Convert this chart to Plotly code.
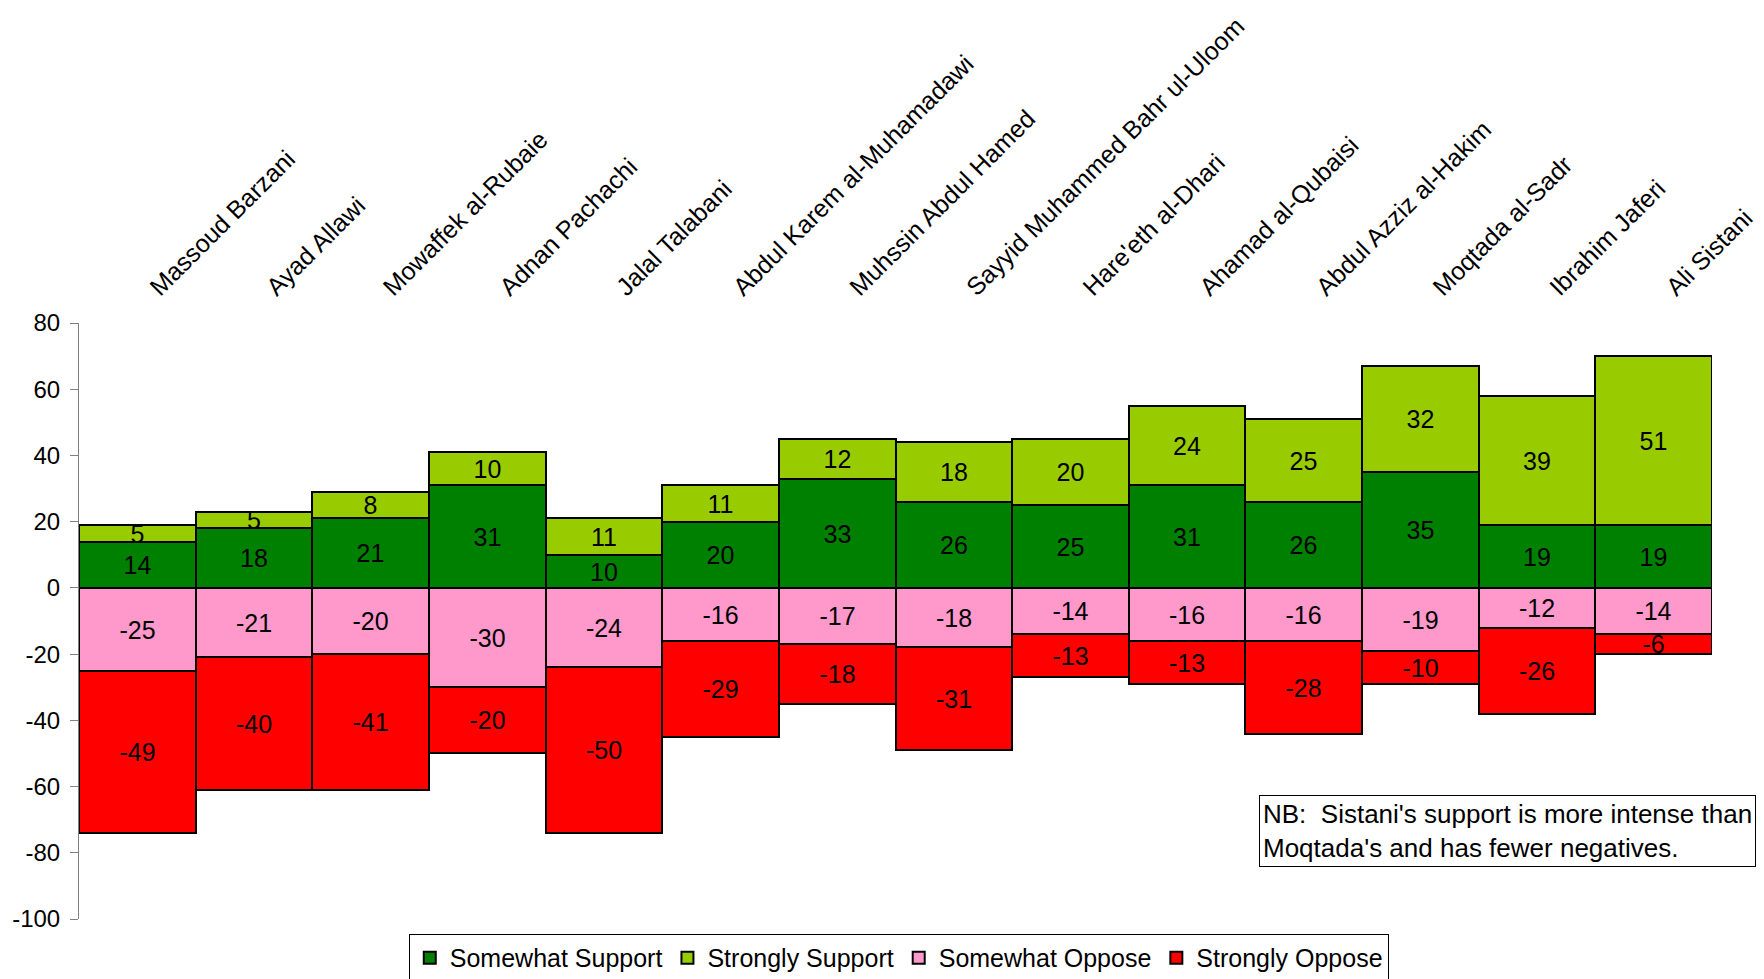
import plotly.graph_objects as go

names = ["Massoud Barzani", "Ayad Allawi", "Mowaffek al-Rubaie", "Adnan Pachachi",
         "Jalal Talabani", "Abdul Karem al-Muhamadawi", "Muhssin Abdul Hamed",
         "Sayyid Muhammed Bahr ul-Uloom", "Hare'eth al-Dhari", "Ahamad al-Qubaisi",
         "Abdul Azziz al-Hakim", "Moqtada al-Sadr", "Ibrahim Jaferi", "Ali Sistani"]
somewhat_support = [14, 18, 21, 31, 10, 20, 33, 26, 25, 31, 26, 35, 19, 19]
strongly_support = [5, 5, 8, 10, 11, 11, 12, 18, 20, 24, 25, 32, 39, 51]
somewhat_oppose = [-25, -21, -20, -30, -24, -16, -17, -18, -14, -16, -16, -19, -12, -14]
strongly_oppose = [-49, -40, -41, -20, -50, -29, -18, -31, -13, -13, -28, -10, -26, -6]
y_ticks = [80, 60, 40, 20, 0, -20, -40, -60, -80, -100]
y_tick_labels = ["80", "60", "40", "20", "0", "-20", "-40", "-60", "-80", "-100"]
note = "NB:\u00a0 Sistani's support is more intense than<br>Moqtada's and has fewer negatives."

FONT = "Liberation Sans, Arial, sans-serif"
series = [
    ("Somewhat Support", somewhat_support, "#008000"),
    ("Strongly Support", strongly_support, "#99CC00"),
    ("Somewhat Oppose", somewhat_oppose, "#FF99CC"),
    ("Strongly Oppose", strongly_oppose, "#FF0000"),
]

fig = go.Figure()
for label, vals, color in series:
    fig.add_trace(go.Bar(
        name=label, x=names, y=vals,
        marker=dict(color=color, line=dict(color="black", width=2)),
        text=[str(v) for v in vals], textposition="inside",
        insidetextanchor="middle", textangle=0, constraintext="none",
        textfont=dict(family=FONT, size=25, color="black"),
        hoverinfo="skip",
    ))

fig.update_layout(
    width=1764, height=979,
    barmode="relative", bargap=0,
    paper_bgcolor="white", plot_bgcolor="white",
    margin=dict(l=71, r=60, t=315, b=68, autoexpand=False),
    font=dict(family=FONT, size=24, color="black"),
    showlegend=True,
    legend=dict(orientation="h", x=0.502, xanchor="center", y=-0.025, yanchor="top",
                bordercolor="black", borderwidth=1, font=dict(size=25),
                itemwidth=30, traceorder="normal"),
    xaxis=dict(side="top", tickangle=-45, showline=False, showgrid=False,
               ticks="", tickfont=dict(size=25), range=[-0.5, 13.5],
               ticklabelstandoff=16, ticklabelshift=14, automargin=False),
    yaxis=dict(range=[-100, 80], tickvals=y_ticks, ticktext=y_tick_labels,
               showgrid=False, zeroline=False,
               showline=True, linecolor="#808080", linewidth=1,
               ticks="outside", ticklen=8, tickcolor="#808080",
               ticklabelstandoff=5, tickfont=dict(size=24), automargin=False),
    annotations=[dict(
        text=note, xref="paper", yref="paper", x=0.7226, y=0.208,
        xanchor="left", yanchor="top", align="left", showarrow=False,
        font=dict(family=FONT, size=26, color="black"),
        bordercolor="black", borderwidth=1, borderpad=3, bgcolor="white",
    )],
)

fig.write_html("out.html")
